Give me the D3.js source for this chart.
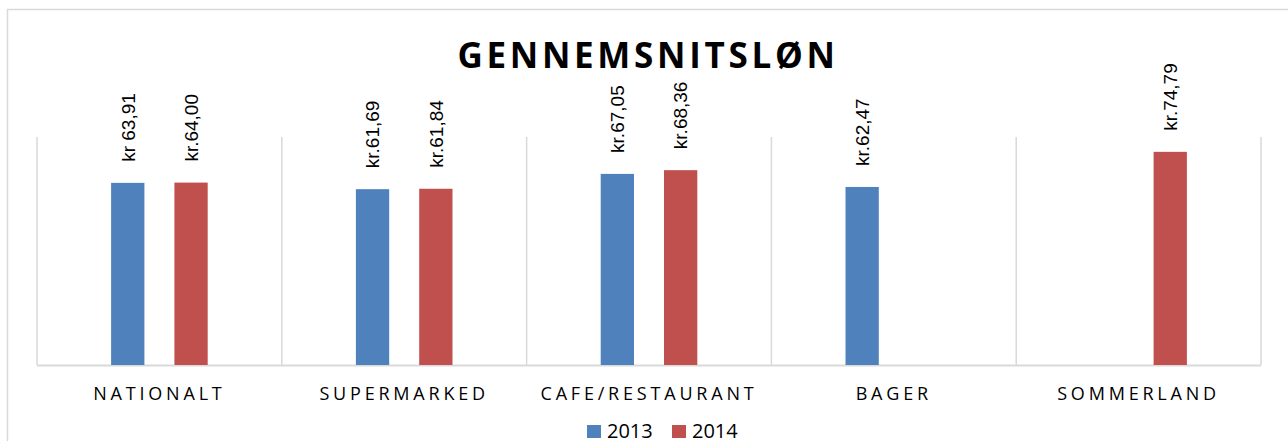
<!DOCTYPE html>
<html>
<head>
<meta charset="utf-8">
<script src="https://cdn.jsdelivr.net/npm/d3@7"></script>
<style>
  body { margin: 0; background: #fff; }
  svg { display: block; }
</style>
</head>
<body>
<div id="chart"></div>
<script>
// data
const categories = ["NATIONALT", "SUPERMARKED", "CAFE/RESTAURANT", "BAGER", "SOMMERLAND"];
const years = ["2013", "2014"];
const values2013 = [63.91, 61.69, 67.05, 62.47, null];
const values2014 = [64.00, 61.84, 68.36, null, 74.79];
const labels2013 = ["kr 63,91", "kr.61,69", "kr.67,05", "kr.62,47", null];
const labels2014 = ["kr.64,00", "kr.61,84", "kr.68,36", null, "kr.74,79"];
const yTicks = [0, 80];
const colors = {"2013": "#4f81bd", "2014": "#c0504d"};

const W = 1288, H = 441;
const margin = {top: 137, right: 27, bottom: 76, left: 37};

const svg = d3.select("#chart").append("svg")
  .attr("width", W).attr("height", H);

// outer chart frame (cropped on right / bottom)
svg.append("rect")
  .attr("x", 7.5).attr("y", 9.5)
  .attr("width", W + 20).attr("height", H + 20)
  .attr("fill", "none").attr("stroke", "#d9d9d9").attr("stroke-width", 1.5);

const x0 = d3.scaleBand()
  .domain(categories)
  .range([margin.left, W - margin.right]);

const bw = x0.bandwidth();
const x1 = d3.scaleBand()
  .domain(years)
  .range([bw / 2 - 48.3, bw / 2 + 48.3])
  .paddingInner(0.474);

const y = d3.scaleLinear()
  .domain(d3.extent(yTicks))
  .range([H - margin.bottom, margin.top]);

// vertical separators between categories
const bounds = categories.map(c => x0(c)).concat([x0.range()[1]]);
svg.append("g").selectAll("line")
  .data(bounds)
  .join("line")
  .attr("x1", d => d).attr("x2", d => d)
  .attr("y1", y(80)).attr("y2", y(0))
  .attr("stroke", "#d9d9d9").attr("stroke-width", 1.5);

// baseline
svg.append("line")
  .attr("x1", x0.range()[0]).attr("x2", x0.range()[1])
  .attr("y1", y(0) + 0.5).attr("y2", y(0) + 0.5)
  .attr("stroke", "#d9d9d9").attr("stroke-width", 2);

const rows = [];
categories.forEach((c, i) => {
  rows.push({cat: c, year: "2013", v: values2013[i], label: labels2013[i]});
  rows.push({cat: c, year: "2014", v: values2014[i], label: labels2014[i]});
});
const present = rows.filter(d => d.v != null);

svg.append("g").selectAll("rect")
  .data(present)
  .join("rect")
  .attr("x", d => x0(d.cat) + x1(d.year))
  .attr("y", d => y(d.v))
  .attr("width", x1.bandwidth())
  .attr("height", d => y(0) - y(d.v))
  .attr("fill", d => colors[d.year]);

// rotated value labels
svg.append("g").selectAll("text")
  .data(present)
  .join("text")
  .attr("transform", d => {
    const cx = x0(d.cat) + x1(d.year) + x1.bandwidth() / 2;
    return `translate(${cx},${y(d.v) - 21}) rotate(-90)`;
  })
  .attr("dy", "0.36em")
  .attr("font-family", "'Liberation Sans', Arial, sans-serif")
  .attr("font-size", 19)
  .attr("fill", "#000")
  .text(d => d.label);

// category labels
svg.append("g").selectAll("text")
  .data(categories)
  .join("text")
  .attr("x", d => x0(d) + bw / 2)
  .attr("y", y(0) + 35)
  .attr("text-anchor", "middle")
  .attr("font-family", "'Open Sans', sans-serif")
  .attr("font-size", 18)
  .attr("letter-spacing", "3.8px")
  .attr("fill", "#000")
  .text(d => d);

// title
svg.append("text")
  .attr("x", 648).attr("y", 68)
  .attr("text-anchor", "middle")
  .attr("font-family", "'Open Sans', sans-serif")
  .attr("font-weight", "bold")
  .attr("font-size", 35)
  .attr("letter-spacing", "3.7px")
  .attr("fill", "#000")
  .text("GENNEMSNITSLØN");

// legend
const legend = svg.append("g");
const legendX = [587, 672];
years.forEach((yr, i) => {
  legend.append("rect")
    .attr("x", legendX[i]).attr("y", 425)
    .attr("width", 14).attr("height", 13)
    .attr("fill", colors[yr]);
  legend.append("text")
    .attr("x", legendX[i] + 20).attr("y", 438)
    .attr("font-family", "'Open Sans', sans-serif")
    .attr("font-size", 20)
    .attr("fill", "#000")
    .text(yr);
});
</script>
</body>
</html>
